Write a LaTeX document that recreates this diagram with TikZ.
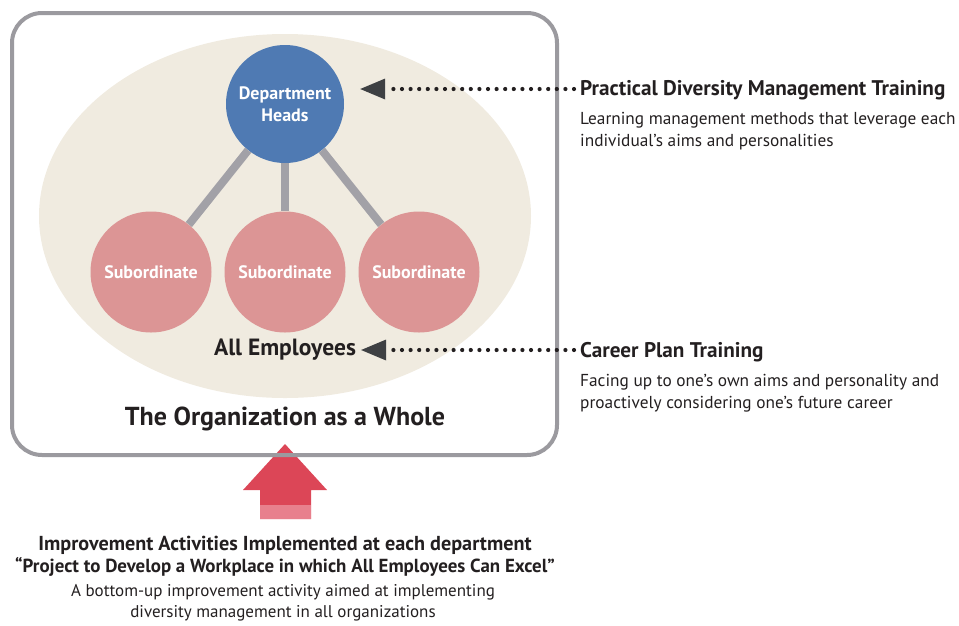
\documentclass[tikz,border=0pt]{standalone}
\usepackage{fontspec}
\setmainfont{PT Sans}
\usetikzlibrary{arrows.meta}
\definecolor{headblue}{HTML}{4F7AB3}
\definecolor{subpink}{HTML}{DC9595}
\definecolor{groundbeige}{HTML}{F0EBE0}
\definecolor{boxgray}{HTML}{9B9A9F}
\definecolor{linkgray}{HTML}{A2A1A7}
\definecolor{tipgray}{HTML}{3E4043}
\definecolor{textdark}{HTML}{231F20}
\definecolor{arrowred}{HTML}{DC4657}
\definecolor{arrowpink}{HTML}{E8808D}

\begin{document}
\begin{tikzpicture}[x=1pt,y=-1pt,
    person/.style={circle,text=white,font=\bfseries\fontsize{18}{22}\selectfont,align=center,inner sep=0pt},
    linkline/.style={draw=linkgray,line width=8pt},
    dotline/.style={draw=textdark,line width=4.2pt,line cap=round,dash pattern=on 0pt off 8.6pt,
        -{Triangle[length=25pt,width=21pt,line width=0pt,fill=tipgray]}},
    headline/.style={anchor=west,text=textdark,font=\bfseries\fontsize{21.2}{24}\selectfont,inner sep=0pt},
    noteline/.style={anchor=north west,text=textdark,font=\fontsize{17.3}{22}\selectfont,align=left,inner sep=0pt}]
    \useasboundingbox (0,0) rectangle (959,625);

    % people of the organization
    \fill[groundbeige] (285,216) ellipse [x radius=246pt, y radius=182pt];
    \node[person,fill=headblue,minimum size=118pt] (head) at (285,104) {Department\\Heads};
    \node[person,fill=subpink,minimum size=121pt] (sub1) at (151,272) {Subordinate};
    \node[person,fill=subpink,minimum size=121pt] (sub2) at (285,272) {Subordinate};
    \node[person,fill=subpink,minimum size=121pt] (sub3) at (419,272) {Subordinate};
    \draw[linkline] (head) -- (sub1);
    \draw[linkline] (head) -- (sub2);
    \draw[linkline] (head) -- (sub3);
    \node[text=textdark,font=\bfseries\fontsize{23.5}{26}\selectfont,inner sep=0pt] (emp) at (285,350) {All Employees};
    \node[text=textdark,font=\bfseries\fontsize{26}{30}\selectfont,inner sep=0pt] (org) at (285,419) {The Organization as a Whole};

    % bottom-up arrow
    \fill[arrowred] (285,444) -- (327,490) -- (311,490) -- (311,519) -- (260,519) -- (260,490) -- (243,490) -- cycle;
    \fill[arrowpink] (260,505) rectangle (311,519);
    \draw[boxgray,line width=4pt,rounded corners=30pt] (12,13) rectangle (557,455);

    % trainings
    \node[headline] (pdm) at (580,90) {Practical Diversity Management Training};
    \node[noteline] (pdmnote) at (580,112) {Learning management methods that leverage each\\individual’s aims and personalities};
    \node[headline] (cpt) at (580,352) {Career Plan Training};
    \node[noteline] (cptnote) at (580,374) {Facing up to one’s own aims and personality and\\proactively considering one’s future career};
    \draw[dotline,shorten <=6pt,shorten >=16pt] (pdm.west |- 0,89) -- (head.east |- 0,89);
    \draw[dotline,shorten <=6pt,shorten >=5pt] (cpt.west |- 0,350) -- (emp.east |- 0,350);

    % improvement activities
    \node[text=textdark,font=\bfseries\fontsize{20.2}{22}\selectfont,align=center,inner sep=0pt] (act) at (285,556) {Improvement Activities Implemented at each department\\{\fontsize{18.9}{22}\selectfont “Project to Develop a Workplace in which All Employees Can Excel”}};
    \node[text=textdark,font=\fontsize{17}{21}\selectfont,align=center,inner sep=0pt] (actnote) at (283,603) {A bottom-up improvement activity aimed at implementing\\diversity management in all organizations};
\end{tikzpicture}
\end{document}
